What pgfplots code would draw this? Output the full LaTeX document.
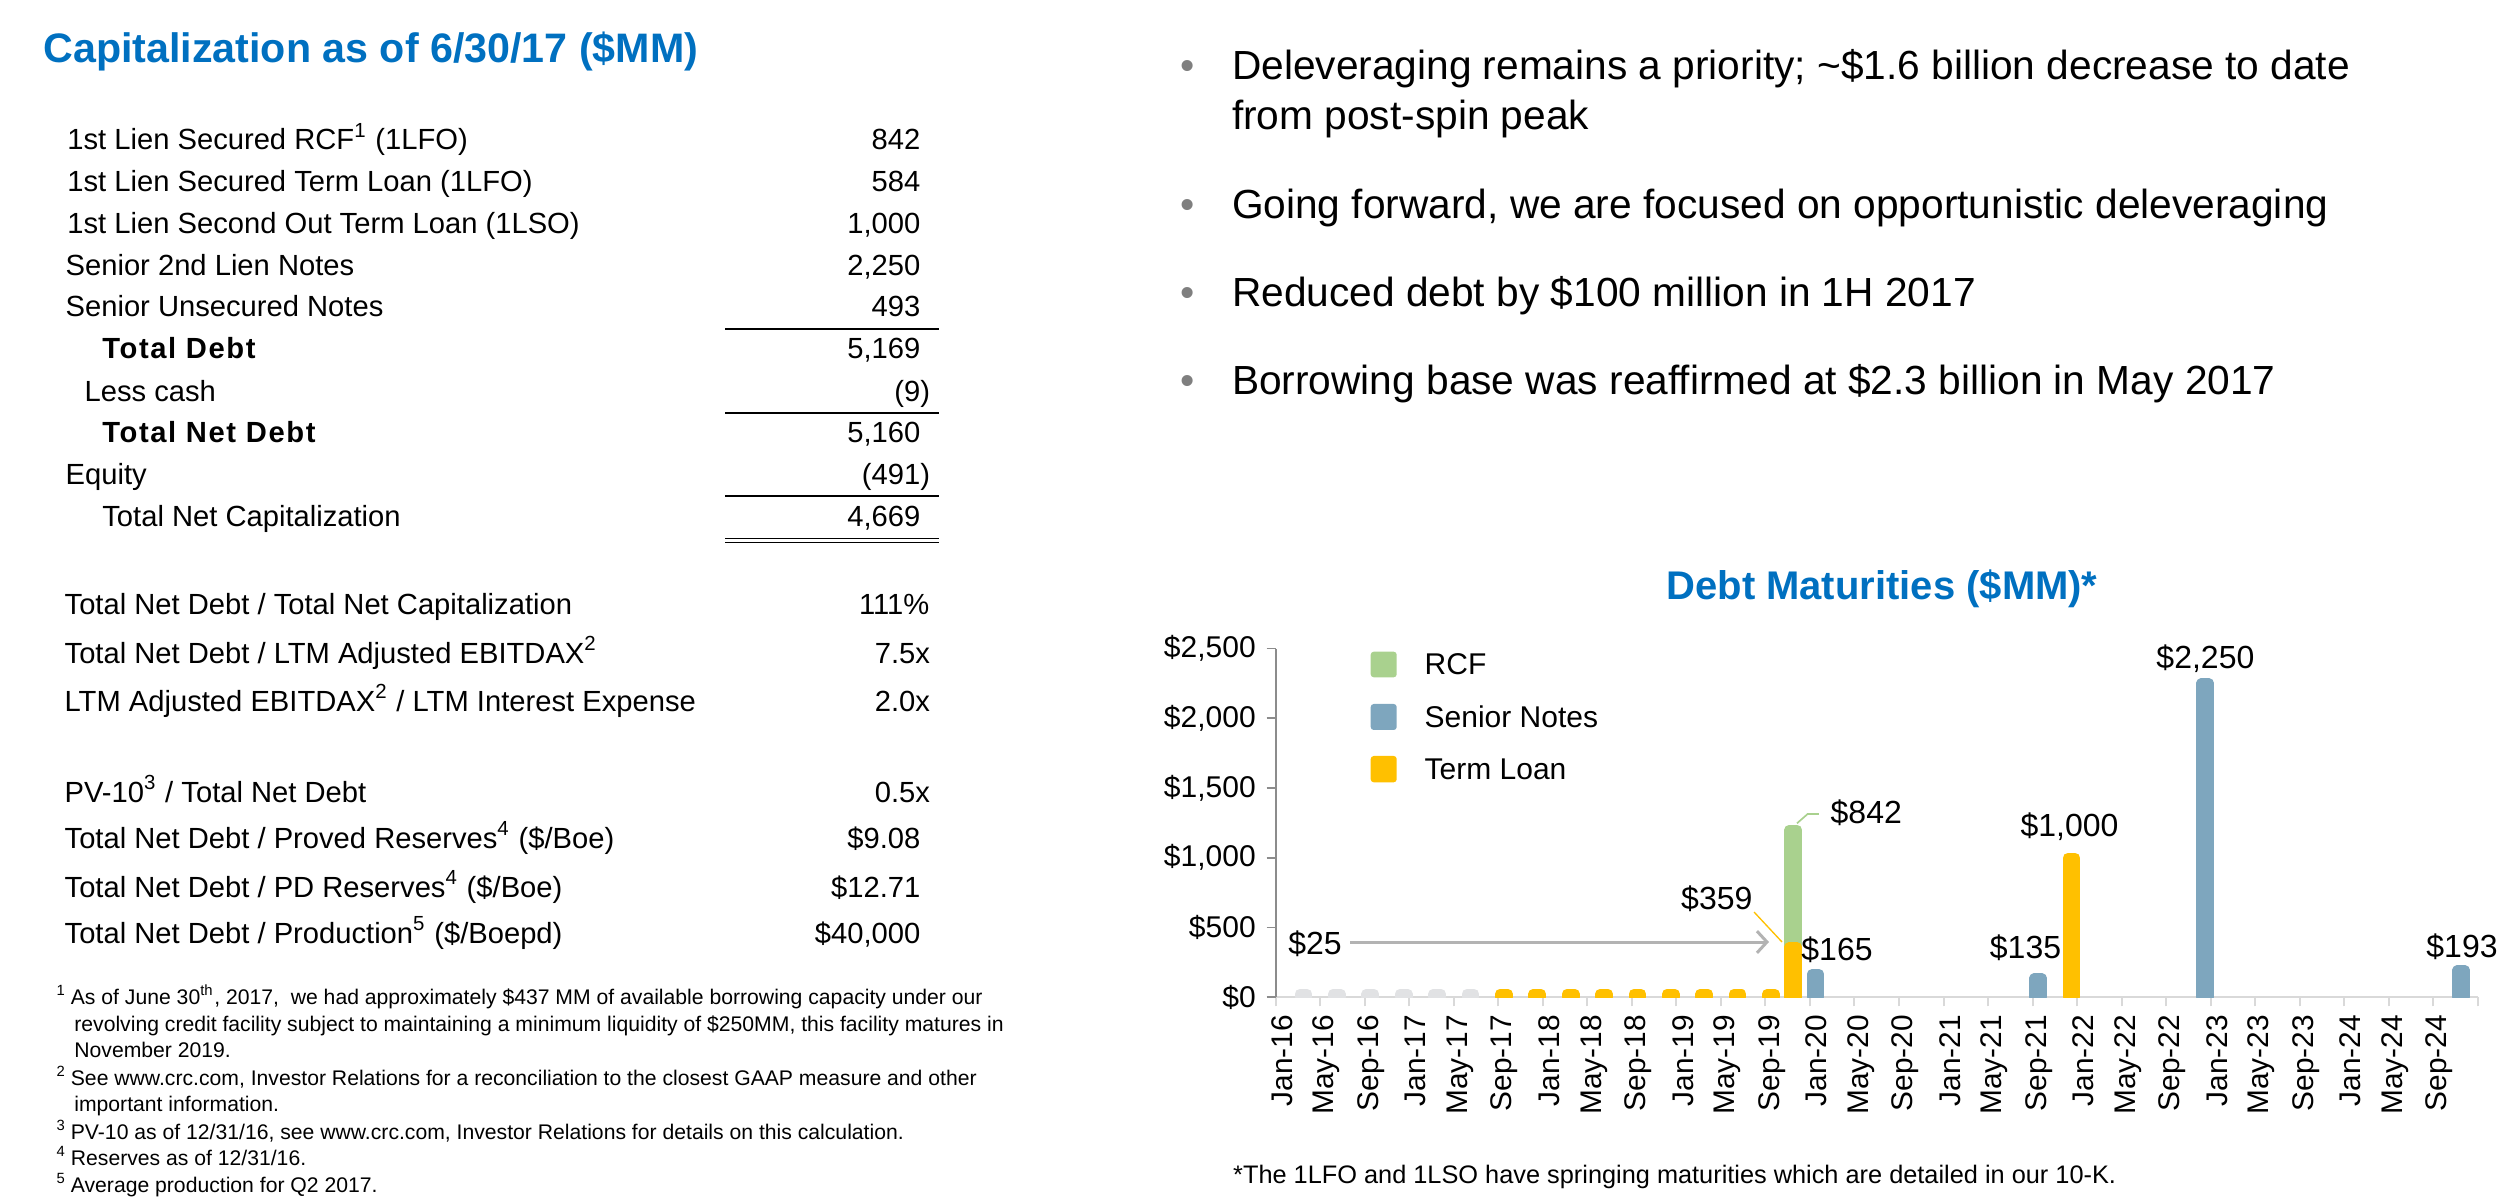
\documentclass[border=0pt]{standalone}
\usepackage{fontspec}
\setmainfont{Liberation Sans}
\usepackage{pgfplots}
\pgfplotsset{compat=1.18}
\usetikzlibrary{arrows.meta}
\definecolor{titleblue}{HTML}{0070C0}
\definecolor{rcfgreen}{HTML}{A9D18E}
\definecolor{notesblue}{HTML}{7EA6BE}
\definecolor{loanyellow}{HTML}{FFC000}
\definecolor{pastgray}{HTML}{E1E2E4}
\definecolor{xaxisgray}{HTML}{D9D9D9}
\definecolor{yaxisgray}{HTML}{8C8C8C}
\definecolor{arrowgray}{HTML}{B3B3B3}
\definecolor{bulletgray}{HTML}{7F7F7F}
\newcommand\fsz[1]{\fontsize{#1}{#1}\selectfont}
\begin{document}
\begin{tikzpicture}
\begin{scope}[x=0.3pt,y=-0.3pt]
\path[use as bounding box] (0,0) rectangle (2512,1204);
% ---------- left title ----------
\node[anchor=base west, inner sep=0pt, text=titleblue, font=\fsz{12.36pt}\bfseries] at (42.7,63) {Capitalization as of 6/30/17 (\$MM)};
% ---------- table ----------
\begin{scope}[every node/.style={inner sep=0pt, font=\fsz{8.75pt}}]
\node[anchor=base west] at (66.7,150) {1st Lien Secured RCF\textsuperscript{1} (1LFO)};
\node[anchor=base west] at (66.7,192) {1st Lien Secured Term Loan (1LFO)};
\node[anchor=base west] at (66.7,233.5) {1st Lien Second Out Term Loan (1LSO)};
\node[anchor=base west] at (65,275.5) {Senior 2nd Lien Notes};
\node[anchor=base west] at (65,317) {Senior Unsecured Notes};
\node[anchor=base west, font=\fsz{8.75pt}\bfseries\addfontfeatures{LetterSpace=5.5}] at (101.7,359) {Total Debt};
\node[anchor=base west] at (84,401.5) {Less cash};
\node[anchor=base west, font=\fsz{8.75pt}\bfseries\addfontfeatures{LetterSpace=5.5}] at (101.7,443) {Total Net Debt};
\node[anchor=base west] at (65,485) {Equity};
\node[anchor=base west] at (101.7,527) {Total Net Capitalization};
\node[anchor=base east] at (921,150) {842};
\node[anchor=base east] at (921,192) {584};
\node[anchor=base east] at (921,233.5) {1,000};
\node[anchor=base east] at (921,275.5) {2,250};
\node[anchor=base east] at (921,317) {493};
\node[anchor=base east] at (921,359) {5,169};
\node[anchor=base east] at (930.7,401.5) {(9)};
\node[anchor=base east] at (921,443) {5,160};
\node[anchor=base east] at (930.7,485) {(491)};
\node[anchor=base east] at (921,527) {4,669};
% lower block
\node[anchor=base west] at (64,615) {Total Net Debt / Total Net Capitalization};
\node[anchor=base west] at (64,663.5) {Total Net Debt / LTM Adjusted EBITDAX\textsuperscript{2}};
\node[anchor=base west] at (64,711.7) {LTM Adjusted EBITDAX\textsuperscript{2} / LTM Interest Expense};
\node[anchor=base west] at (64,802) {PV-10\textsuperscript{3} / Total Net Debt};
\node[anchor=base west] at (64,848.5) {Total Net Debt / Proved Reserves\textsuperscript{4} (\$/Boe)};
\node[anchor=base west] at (64,897) {Total Net Debt / PD Reserves\textsuperscript{4} (\$/Boe)};
\node[anchor=base west] at (64,943.5) {Total Net Debt / Production\textsuperscript{5} (\$/Boepd)};
\node[anchor=base east] at (930,615) {111\%};
\node[anchor=base east] at (930.7,663.5) {7.5x};
\node[anchor=base east] at (930.7,711.7) {2.0x};
\node[anchor=base east] at (930.7,802) {0.5x};
\node[anchor=base east] at (921,848.5) {\$9.08};
\node[anchor=base east] at (921,897) {\$12.71};
\node[anchor=base east] at (921,943.5) {\$40,000};
\end{scope}
\draw[line width=0.6pt] (725,328.7) -- (939,328.7);
\draw[line width=0.6pt] (725,413.2) -- (939,413.2);
\draw[line width=0.6pt] (725,496) -- (939,496);
\draw[line width=0.45pt] (725,538.6) -- (939,538.6);
\draw[line width=0.45pt] (725,542.6) -- (939,542.6);
% ---------- footnotes ----------
\begin{scope}[every node/.style={inner sep=0pt, font=\fsz{6.35pt}}]
\node[anchor=base west] at (56,1004) {\textsuperscript{1}};
\node[anchor=base west] at (70.2,1004) {As of June 30\textsuperscript{th}, 2017,\ \ we had approximately \$437 MM of available borrowing capacity under our};
\node[anchor=base west] at (73.7,1031) {revolving credit facility subject to maintaining a minimum liquidity of \$250MM, this facility matures in};
\node[anchor=base west] at (73.7,1057) {November 2019.};
\node[anchor=base west] at (56,1085) {\textsuperscript{2}};
\node[anchor=base west] at (70.2,1085) {See www.crc.com, Investor Relations for a reconciliation to the closest GAAP measure and other};
\node[anchor=base west] at (73.7,1111) {important information.};
\node[anchor=base west] at (56,1139) {\textsuperscript{3}};
\node[anchor=base west] at (70.2,1139) {PV-10 as of 12/31/16, see www.crc.com, Investor Relations for details on this calculation.};
\node[anchor=base west] at (56,1165) {\textsuperscript{4}};
\node[anchor=base west] at (70.2,1165) {Reserves as of 12/31/16.};
\node[anchor=base west] at (56,1192) {\textsuperscript{5}};
\node[anchor=base west] at (70.2,1192) {Average production for Q2 2017.};
\end{scope}
% ---------- bullets ----------
\begin{scope}[every node/.style={inner sep=0pt, font=\fsz{12.2pt}}]
\foreach \yy in {79.3,218.3,306.7,395} {\node[anchor=base west, text=bulletgray] at (1180,\yy) {\textbullet};}
\node[anchor=base west] at (1231.4,79.3) {Deleveraging remains a priority; \textasciitilde\$1.6 billion decrease to date};
\node[anchor=base west] at (1231.4,130) {from post-spin peak};
\node[anchor=base west] at (1231.4,218.3) {Going forward, we are focused on opportunistic deleveraging};
\node[anchor=base west] at (1231.4,306.7) {Reduced debt by \$100 million in 1H 2017};
\node[anchor=base west] at (1231.4,395) {Borrowing base was reaffirmed at \$2.3 billion in May 2017};
\end{scope}
% ---------- chart title and note ----------
\node[anchor=base, inner sep=0pt, text=titleblue, font=\fsz{12pt}\bfseries] at (1882,600) {Debt Maturities (\$MM)*};
\node[anchor=base west, inner sep=0pt, font=\fsz{7.6pt}] at (1232.5,1183) {*The 1LFO and 1LSO have springing maturities which are detailed in our 10-K.};
\end{scope}
% ---------- chart ----------
\begin{axis}[
  at={(382.71pt,-299.19pt)}, anchor=south west,
  scale only axis, width=360.63pt, height=104.64pt,
  xmin=0, xmax=108, ymin=0, ymax=2500,
  axis x line*=bottom, axis y line*=left,
  axis line style={-},
  x axis line style={draw=xaxisgray, line width=0.6pt},
  y axis line style={draw=yaxisgray, line width=0.5pt},
  xtick={0,4,...,108},
  xticklabels={Jan-16,May-16,Sep-16,Jan-17,May-17,Sep-17,Jan-18,May-18,Sep-18,Jan-19,May-19,Sep-19,Jan-20,May-20,Sep-20,Jan-21,May-21,Sep-21,Jan-22,May-22,Sep-22,Jan-23,May-23,Sep-23,Jan-24,May-24,Sep-24,{}},
  ytick={0,500,...,2500},
  yticklabels={\$0,\$500,{\$1,000},{\$1,500},{\$2,000},{\$2,500}},
  tick align=outside, major tick length=2.7pt,
  xtick style={draw=xaxisgray, line width=0.6pt},
  ytick style={draw=yaxisgray, line width=0.5pt},
  xticklabel style={font=\fsz{8.95pt}, xshift=1.9pt, yshift=-2.4pt, rotate=90, anchor=east, inner sep=0pt},
  yticklabel style={font=\fsz{9pt}, xshift=-3.1pt, anchor=east, inner sep=0pt},
  bar width=2.3pt,
  every axis plot/.append style={ybar, bar shift=0pt, line width=3pt, line join=round},
]
\addplot[fill=pastgray, draw=pastgray] coordinates {(2.5,25) (5.5,25) (8.5,25) (11.5,25) (14.5,25) (17.5,25)};
\addplot[fill=rcfgreen, draw=rcfgreen] coordinates {(46.5,1201)};
\addplot[fill=loanyellow, draw=loanyellow] coordinates {(20.5,25) (23.5,25) (26.5,25) (29.5,25) (32.5,25) (35.5,25) (38.5,25) (41.5,25) (44.5,25) (46.5,359) (71.5,1000)};
\addplot[fill=notesblue, draw=notesblue] coordinates {(48.5,165) (68.5,135) (83.5,2250) (106.5,193)};
\end{axis}
% ---------- chart annotations ----------
\begin{scope}[x=0.3pt,y=-0.3pt]
\begin{scope}[every node/.style={inner sep=0pt, font=\fsz{9.6pt}}]
\node[anchor=base] at (1315,954) {\$25};
\node[anchor=base] at (1716.8,910) {\$359};
\node[anchor=base west] at (1830,824) {\$842};
\node[anchor=base] at (1837,960) {\$165};
\node[anchor=base] at (2025.5,958.3) {\$135};
\node[anchor=base] at (2069.5,836.7) {\$1,000};
\node[anchor=base] at (2205.4,668.3) {\$2,250};
\node[anchor=base] at (2462,957.3) {\$193};
\end{scope}
\draw[arrowgray, line width=0.9pt, -{Straight Barb[length=3pt,width=6.5pt]}] (1350,942) -- (1769,942);
\draw[loanyellow, line width=0.4pt] (1754,912) -- (1782,942);
\draw[rcfgreen, line width=0.5pt] (1797,823.3) -- (1807.6,814) -- (1818.9,814);
% legend
\fill[rcfgreen, rounded corners=0.9pt] (1370.7,651.7) rectangle (1396.7,677.3);
\fill[notesblue, rounded corners=0.9pt] (1370.7,704) rectangle (1396.7,730);
\fill[loanyellow, rounded corners=0.9pt] (1370.7,756) rectangle (1396.7,782.3);
\begin{scope}[every node/.style={inner sep=0pt, font=\fsz{9pt}, anchor=base west}]
\node at (1424,675) {RCF};
\node at (1424,727.3) {Senior Notes};
\node at (1424,780) {Term Loan};
\end{scope}
\end{scope}
\end{tikzpicture}
\end{document}
